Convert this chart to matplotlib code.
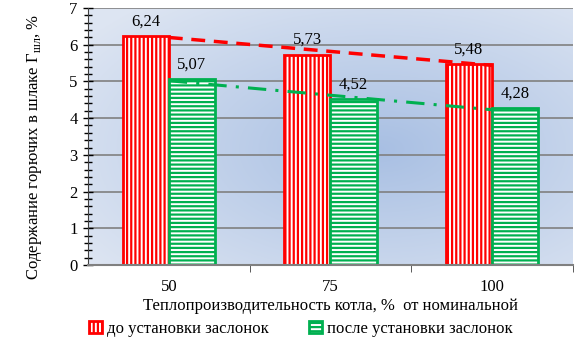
import numpy as np
import matplotlib.pyplot as plt
from matplotlib.ticker import MultipleLocator, FixedLocator, NullFormatter

plt.rcParams['font.family'] = ['Liberation Serif', 'DejaVu Serif']
plt.rcParams['hatch.linewidth'] = 1.6

# data
loads = ['50', '75', '100']
load_vals = np.array([50, 75, 100])
before = [6.24, 5.73, 5.48]
after = [5.07, 4.52, 4.28]
before_lbl = ['6,24', '5,73', '5,48']
after_lbl = ['5,07', '4,52', '4,28']

fig = plt.figure(figsize=(5.81, 3.46), dpi=100)
ax = fig.add_axes([0.1515, 0.234, 0.8345, 0.743])

x = np.arange(len(loads))
w = 0.285

# radial gradient background
gx, gy = np.meshgrid(np.linspace(0, 1, 300), np.linspace(0, 1, 200))
r = np.sqrt(((gx - 0.6) / 0.75) ** 2 + ((gy - 0.45) / 0.75) ** 2)
r = np.clip(r, 0, 1)
c_in = np.array([0.66, 0.75, 0.89])
c_out = np.array([0.87, 0.90, 0.95])
img = c_in[None, None, :] * (1 - r[..., None]) + c_out[None, None, :] * r[..., None]
ax.imshow(img, extent=[-0.5, 2.5, 0, 7], aspect='auto', origin='lower', zorder=0)

for yv in range(1, 8):
    ax.axhline(yv, color='#808080', lw=1.2, zorder=1)

ax.bar(x - w / 2, before, w, facecolor='white', edgecolor='#ff0000', hatch='||||',
       lw=2, zorder=2, label='до установки заслонок')
ax.bar(x + w / 2, after, w, facecolor='white', edgecolor='#00b050', hatch='----',
       lw=2, zorder=2, label='после установки заслонок')

# linear trend lines (as in the original chart)
kb = np.polyfit(load_vals, before, 1)
ka = np.polyfit(load_vals, after, 1)
ax.plot(x, np.polyval(kb, load_vals), color='#ff0000', lw=2.5, dashes=(4, 2.5), zorder=3)
ax.plot(x, np.polyval(ka, load_vals), color='#00b050', lw=2.2, dashes=(6, 3, 1, 3), zorder=3)

for i in range(len(loads)):
    ax.text(x[i] - w / 2, before[i] + 0.18, before_lbl[i], ha='center', va='bottom', fontsize=12)
    ax.text(x[i] + w / 2, after[i] + 0.18, after_lbl[i], ha='center', va='bottom', fontsize=12)

ax.set_xlim(-0.5, 2.5)
ax.set_ylim(0, 7)
ax.yaxis.set_major_locator(MultipleLocator(1))
ax.yaxis.set_minor_locator(MultipleLocator(0.2))
ax.tick_params(axis='y', which='major', direction='inout', length=7, width=1, labelsize=12, pad=4)
ax.tick_params(axis='y', which='minor', direction='inout', length=6, width=1)
ax.set_xticks(x)
ax.set_xticklabels(loads, fontsize=12)
ax.xaxis.set_minor_locator(FixedLocator([0.5, 1.5, 2.5]))
ax.xaxis.set_minor_formatter(NullFormatter())
ax.tick_params(axis='x', which='major', length=0, pad=10)
ax.tick_params(axis='x', which='minor', direction='out', length=5, color='#404040')

for s in ['top', 'right']:
    ax.spines[s].set_visible(False)
ax.spines['left'].set_color('#404040')
ax.spines['bottom'].set_color('#808080')
ax.spines['bottom'].set_linewidth(1.5)

ax.set_xlabel('Теплопроизводительность котла, %  от номинальной', fontsize=12, labelpad=2)
ax.set_ylabel('Содержание горючих в шлаке Г$_{\\mathregular{шл}}$, %', fontsize=12)
ax.yaxis.set_label_coords(-0.09, 0.46)

fig.legend(loc='center left', bbox_to_anchor=(0.138, 0.05), ncol=2, frameon=False,
           fontsize=12, handlelength=0.8, handleheight=0.8, handletextpad=0.3,
           columnspacing=2.4, borderpad=0)

fig.savefig('out.png', dpi=100)
